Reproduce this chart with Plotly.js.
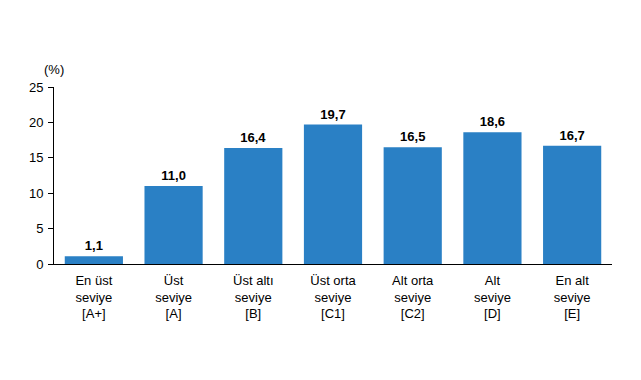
<!DOCTYPE html>
<html>
<head>
<meta charset="utf-8">
<script src="https://cdn.plot.ly/plotly-3.0.1.min.js"></script>
<style>html,body{margin:0;padding:0;background:#fff;}#chart{width:641px;height:380px;}</style>
</head>
<body>
<div id="chart"></div>
<script>
const categories = ["En üst<br>seviye<br>[A+]", "Üst<br>seviye<br>[A]", "Üst altı<br>seviye<br>[B]", "Üst orta<br>seviye<br>[C1]", "Alt orta<br>seviye<br>[C2]", "Alt<br>seviye<br>[D]", "En alt<br>seviye<br>[E]"];
const values = [1.1, 11.0, 16.4, 19.7, 16.5, 18.6, 16.7];
const valueLabels = ["1,1", "11,0", "16,4", "19,7", "16,5", "18,6", "16,7"];
const yTicks = [0, 5, 10, 15, 20, 25];

const font = "Liberation Sans, Arial, sans-serif";
const trace = {
  type: "bar",
  x: categories,
  y: values,
  text: valueLabels,
  textposition: "outside",
  cliponaxis: false,
  textfont: {family: font, size: 13, color: "#000", weight: "bold"},
  marker: {color: "#2a80c5"},
  hoverinfo: "none"
};
const layout = {
  width: 641, height: 380,
  margin: {l: 54, r: 29, t: 87, b: 116},
  paper_bgcolor: "#fff", plot_bgcolor: "#fff",
  bargap: 0.27,
  showlegend: false,
  font: {family: font, size: 13, color: "#000"},
  xaxis: {
    type: "category",
    showline: true, linecolor: "#000", linewidth: 1,
    ticks: "", showgrid: false, zeroline: false,
    ticklabelstandoff: 4,
    tickfont: {family: font, size: 13, color: "#000"}
  },
  yaxis: {
    range: [0, 25], tickvals: yTicks,
    showline: true, linecolor: "#000", linewidth: 1,
    ticks: "outside", ticklen: 5, tickcolor: "#000",
    ticklabelstandoff: 2,
    showgrid: false, zeroline: false,
    tickfont: {family: font, size: 13, color: "#000"}
  },
  annotations: [{
    text: "(%)", xref: "paper", yref: "paper", x: 0, y: 1, xanchor: "center", yanchor: "bottom",
    xshift: 0, yshift: 8, showarrow: false, font: {family: font, size: 13, color: "#000"}
  }]
};
Plotly.newPlot("chart", [trace], layout, {staticPlot: true});
</script>
</body>
</html>
